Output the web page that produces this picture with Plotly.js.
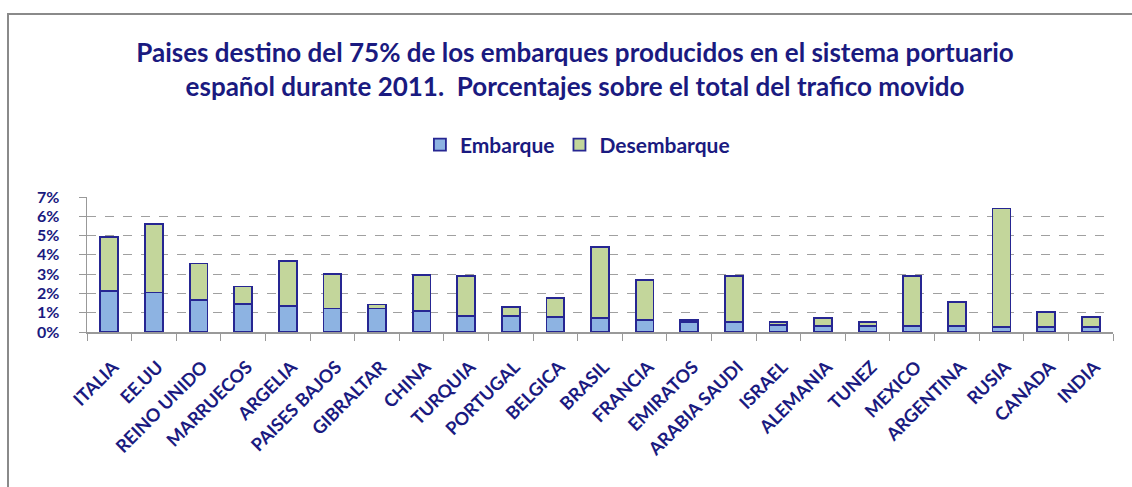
<!DOCTYPE html>
<html><head><meta charset="utf-8">
<script src="https://cdn.plot.ly/plotly-3.0.1.min.js"></script>
<style>html,body{margin:0;padding:0;background:#fff}#chart{width:1132px;height:487px}</style>
</head><body><div id="chart"></div>
<script>
const paises = ["ITALIA","EE.UU","REINO UNIDO","MARRUECOS","ARGELIA","PAISES BAJOS","GIBRALTAR","CHINA","TURQUIA","PORTUGAL","BELGICA","BRASIL","FRANCIA","EMIRATOS","ARABIA SAUDI","ISRAEL","ALEMANIA","TUNEZ","MEXICO","ARGENTINA","RUSIA","CANADA","INDIA"];
const embarque = [2.13,2.05,1.64,1.45,1.36,1.22,1.22,1.10,0.84,0.84,0.77,0.71,0.64,0.50,0.52,0.38,0.31,0.31,0.31,0.33,0.24,0.24,0.24];
const desembarque = [2.81,3.54,1.91,0.91,2.31,1.79,0.21,1.86,2.07,0.47,0.99,3.70,2.06,0.14,2.39,0.14,0.40,0.21,2.60,1.24,6.16,0.81,0.53];
const yTicks = [0,1,2,3,4,5,6,7];
const yTickText = ["0%","1%","2%","3%","4%","5%","6%","7%"];

const navy = "#1a1a80";
const edge = "#262692";
const fontFam = "Lato, 'Open Sans', sans-serif";

const traces = [
  {type:"bar", name:"Embarque", x:paises, y:embarque,
   marker:{color:"#8db3e2", line:{color:edge, width:1.8}}},
  {type:"bar", name:"Desembarque", x:paises, y:desembarque,
   marker:{color:"#c3d69b", line:{color:edge, width:1.8}}}
];

const layout = {
  width:1132, height:487,
  barmode:"stack", bargap:0.6,
  paper_bgcolor:"#fff", plot_bgcolor:"#fff",
  margin:{l:87, r:19, t:197, b:155},
  title:{text:"Paises destino del 75% de los embarques producidos en el sistema portuario<br>español durante 2011.  Porcentajes sobre el total del trafico movido",
    font:{family:fontFam, size:26, color:navy, weight:"bold"},
    x:0.508, xanchor:"center", yref:"container", y:1-62/487, yanchor:"middle"},
  legend:{orientation:"h", x:0.478, xanchor:"center", y:(332-145)/135, yanchor:"middle",
    font:{family:fontFam, size:21, color:navy, weight:"bold"}, traceorder:"normal", itemwidth:30},
  xaxis:{type:"category", tickangle:-45, tickson:"boundaries", ticks:"outside", ticklen:7, tickcolor:"#999",
    showline:true, linecolor:"#999", linewidth:1.5, showgrid:false, ticklabelstandoff:16, ticklabelshift:4,
    tickfont:{family:fontFam, size:18, color:navy, weight:"bold"}},
  yaxis:{range:[0,7], tickvals:yTicks, ticktext:yTickText, showline:true, linecolor:"#999", linewidth:1.5,
    ticks:"outside", ticklen:7, tickcolor:"#999", ticklabelstandoff:16,
    showgrid:true, gridcolor:"#a0a0a0", griddash:"dash", gridwidth:1, zeroline:false,
    tickfont:{family:fontFam, size:16, color:navy, weight:"bold"}},
  shapes:[{type:"rect", xref:"paper", yref:"paper",
    x0:(8-87)/1026, x1:1.2, y0:-1.5, y1:(332-14)/135,
    line:{color:"#8a8a8a", width:2}, fillcolor:"rgba(0,0,0,0)", layer:"below"}],
  showlegend:true
};
Plotly.newPlot("chart", traces, layout, {displayModeBar:false, staticPlot:true});
</script></body></html>
